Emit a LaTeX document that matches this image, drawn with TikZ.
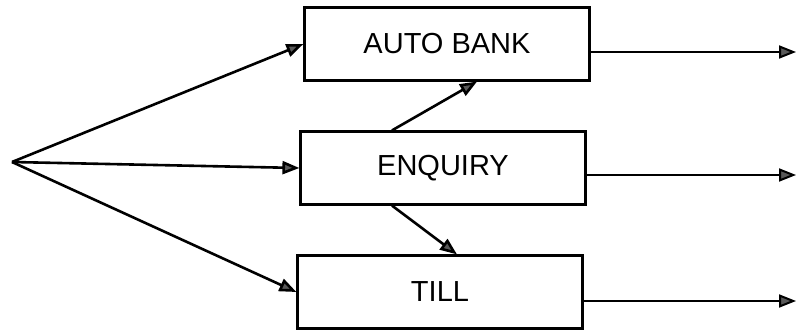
\documentclass[tikz,border=0pt]{standalone}
\usepackage{fontspec}
\setmainfont{Liberation Sans}
\usepackage{tikz}
\usetikzlibrary{arrows.meta}

\begin{document}
\begin{tikzpicture}[x=1pt, y=-1pt, node distance=124pt,
  box/.style={draw, rectangle, line width=2.2pt, minimum width=285pt, minimum height=73pt, font=\fontsize{29}{34}\selectfont},
  flow/.style={line width=2.6pt, -{Triangle[length=17pt,width=13pt,fill=black!65]}},
  outflow/.style={line width=2pt, -{Triangle[length=17pt,width=13pt,fill=black!65]}}]
\useasboundingbox (0,0) rectangle (798,335);
\node (auto) [box] at (447,44) {AUTO BANK};
\node (enq) [box, below of=auto, xshift=-4pt] {ENQUIRY};
\node (till) [box, below of=enq, xshift=-3pt] {TILL};
\coordinate (src) at (12,162);
\coordinate (outA) at (796,52);
\coordinate (outE) at (796,175);
\coordinate (outT) at (796,301);

\draw[flow] (src) -- (auto.west);
\draw[flow] (src) -- (enq.west);
\draw[flow] (src) -- (till.west);
\draw[flow] ([xshift=-51pt]enq.north) -- ([xshift=30pt]auto.south);
\draw[flow] ([xshift=-51pt]enq.south) -- ([xshift=17pt]till.north);
\draw[outflow] (auto.east |- outA) -- (outA);
\draw[outflow] (enq.east |- outE) -- (outE);
\draw[outflow] (till.east |- outT) -- (outT);
\end{tikzpicture}
\end{document}
